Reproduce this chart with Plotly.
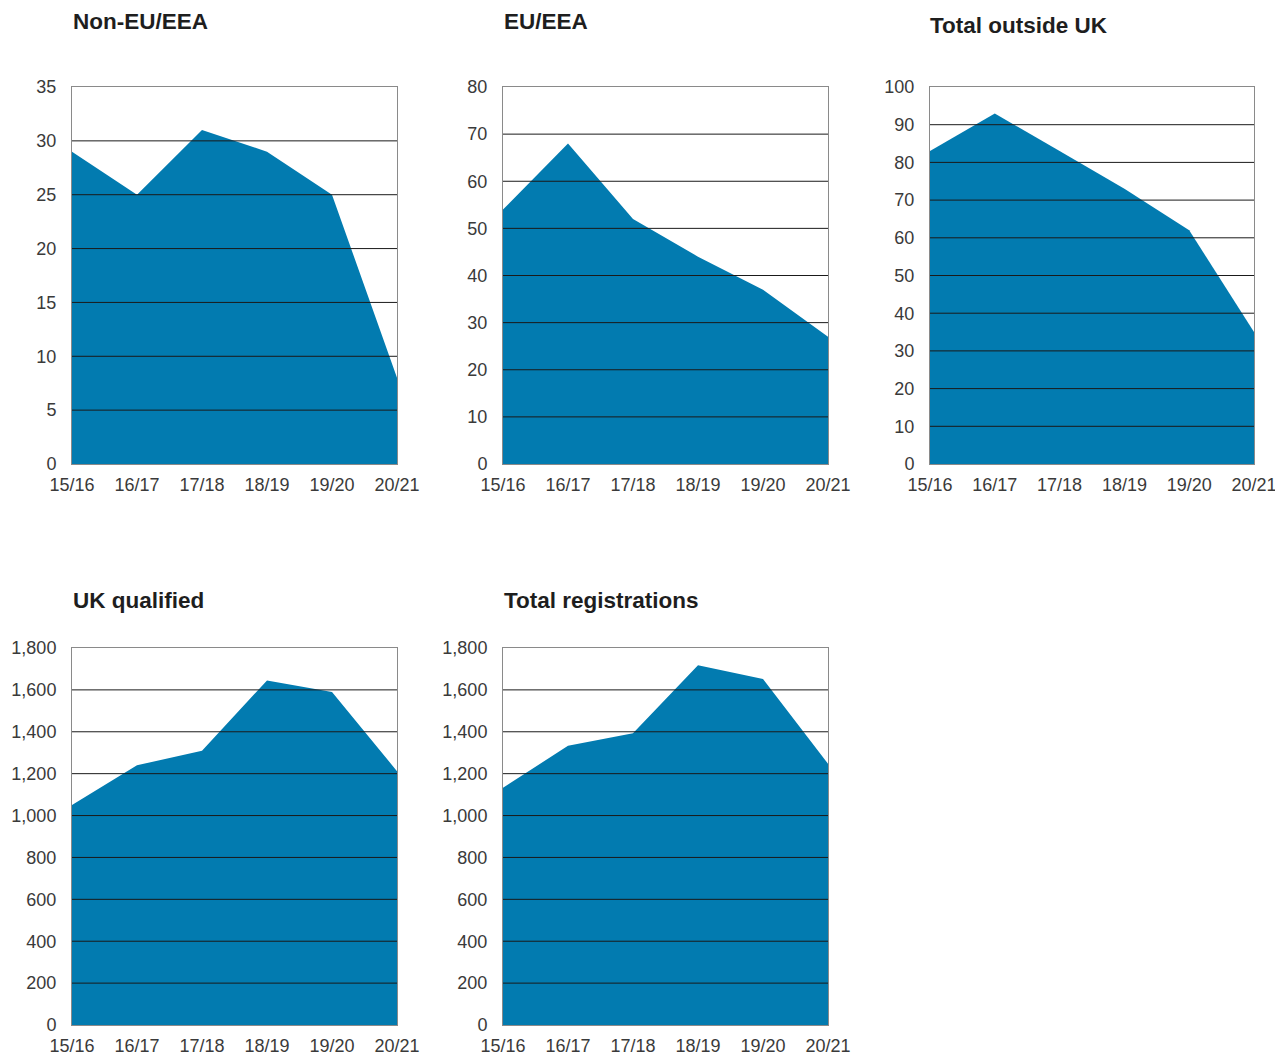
import plotly.graph_objects as go

OFF = 8  # page body margin
W, H = 1283 - OFF, 1064 - OFF

years = ["15/16", "16/17", "17/18", "18/19", "19/20", "20/21"]
non_eu = [29, 25, 31, 29, 25, 8]
eu_eea = [54, 68, 52, 44, 37, 27]
total_outside = [83, 93, 83, 73, 62, 35]
uk_qualified = [1050, 1240, 1310, 1645, 1590, 1212]
total_reg = [1133, 1333, 1393, 1718, 1652, 1247]

titles = ["Non-EU/EEA", "EU/EEA", "Total outside UK", "UK qualified", "Total registrations"]
series = [non_eu, eu_eea, total_outside, uk_qualified, total_reg]
y_max = [35, 80, 100, 1800, 1800]
y_step = [5, 10, 10, 200, 200]

# layout in window pixels: (left, right, top, bottom)
boxes = [(72, 397, 87, 464), (503, 828, 87, 464), (930, 1254, 87, 464),
         (72, 397, 648, 1025), (503, 828, 648, 1025)]
title_pos = [(71, 21), (502, 21), (928, 25), (71, 600), (502, 600)]


def px(x):
    return (x - OFF) / W


def py(y):
    return 1 - (y - OFF) / H


FILL = "#027bb0"
GRID = "#1a1a1a"
FRAME = "#8a8a8a"
TICKFONT = dict(family="Liberation Sans, Arial, sans-serif", size=18, color="#3a3a3a")

fig = go.Figure()
xs = list(range(len(years)))

for i, (vals, ymax, step, box) in enumerate(zip(series, y_max, y_step, boxes)):
    n = i + 1
    xa = "x" if n == 1 else f"x{n}"
    ya = "y" if n == 1 else f"y{n}"
    fig.add_trace(go.Scatter(
        x=xs, y=vals, mode="lines", fill="tozeroy",
        fillcolor=FILL, line=dict(width=0, color=FILL),
        xaxis=xa, yaxis=ya, showlegend=False, hoverinfo="x+y"))
    l, r, t, b = box
    xkey = "xaxis" if n == 1 else f"xaxis{n}"
    ykey = "yaxis" if n == 1 else f"yaxis{n}"
    tickvals = list(range(0, ymax + 1, step))
    fig.layout[xkey] = dict(
        domain=[px(l), px(r)], range=[0, len(years) - 1], anchor=ya,
        tickvals=xs, ticktext=years, showgrid=False, zeroline=False,
        showline=True, linecolor=FRAME, linewidth=1, mirror=True,
        ticks="", ticklabelstandoff=4, tickfont=TICKFONT, automargin=False,
        layer="above traces", fixedrange=True)
    fig.layout[ykey] = dict(
        domain=[py(b), py(t)], range=[0, ymax], anchor=xa,
        tickvals=tickvals, tickformat=",", showgrid=False, zeroline=False,
        showline=True, linecolor=FRAME, linewidth=1, mirror=True,
        ticks="", ticklabelstandoff=11, tickfont=TICKFONT, automargin=False,
        layer="above traces", fixedrange=True)
    for v in tickvals[1:-1]:
        fig.add_shape(type="line", xref=f"{xa} domain", yref=ya,
                      x0=0, x1=1, y0=v, y1=v, layer="above",
                      line=dict(color=GRID, width=1))

for title, (tx, ty) in zip(titles, title_pos):
    fig.add_annotation(text=f"<b>{title}</b>", xref="paper", yref="paper",
                       x=px(tx), y=py(ty), xanchor="left", yanchor="middle",
                       showarrow=False,
                       font=dict(family="Liberation Sans, Arial, sans-serif",
                                 size=22.5, color="#1e1e1e"))

fig.update_layout(width=W, height=H, margin=dict(l=0, r=0, t=0, b=0, pad=0),
                  paper_bgcolor="white", plot_bgcolor="white")

fig.write_html("out.html")
